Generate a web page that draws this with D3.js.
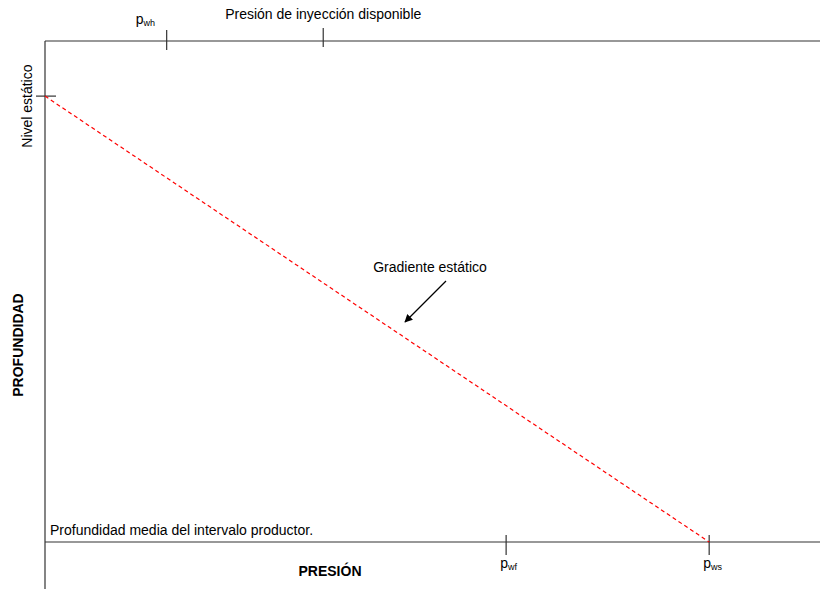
<!DOCTYPE html>
<html>
<head>
<meta charset="utf-8">
<script src="https://cdn.jsdelivr.net/npm/d3@7"></script>
<style>
  body { margin: 0; background: #fff; }
  text { font-family: "Liberation Sans", Arial, sans-serif; fill: #000; }
</style>
</head>
<body>
<div id="chart"></div>
<script>
// pressure / depth in arbitrary units (0..100)
var topTicks = [
    { name: 'p', sub: 'wh', value: 15.7 },
    { name: 'Presión de inyección disponible', sub: null, value: 35.9 }
];
var bottomTicks = [
    { name: 'p', sub: 'wf', value: 59.5 },
    { name: 'p', sub: 'ws', value: 85.7 }
];
var staticLevel = 11;        // depth of "Nivel estático"
var midDepth = 100;          // "Profundidad media del intervalo productor."
var gradient = [
    { p: 0, d: staticLevel },
    { p: 85.7, d: midDepth }
];

var width = 820, height = 589;
var fs = 14;
var svg = d3.select('#chart').append('svg')
    .attr('width', width)
    .attr('height', height);

var x = d3.scaleLinear().domain([0, 100]).range([45, 820]);
var y = d3.scaleLinear().domain([0, 100]).range([41, 542]);
var stroke = '#333';

// frame lines
svg.append('line')
    .attr('x1', x(0)).attr('x2', x(100))
    .attr('y1', y(0)).attr('y2', y(0))
    .attr('stroke', stroke).attr('stroke-width', 1.2);
svg.append('line')
    .attr('x1', x(0)).attr('x2', x(100))
    .attr('y1', y(midDepth)).attr('y2', y(midDepth))
    .attr('stroke', stroke).attr('stroke-width', 1.2);
svg.append('line')
    .attr('x1', x(0)).attr('x2', x(0))
    .attr('y1', y(0)).attr('y2', height)
    .attr('stroke', stroke).attr('stroke-width', 1.2);

// top ticks
topTicks.forEach(function(t, i) {
    var px = x(t.value);
    svg.append('line')
        .attr('x1', px).attr('x2', px)
        .attr('y1', y(0) - (i == 0 ? 11 : 13)).attr('y2', y(0) + (i == 0 ? 9 : 6))
        .attr('stroke', stroke).attr('stroke-width', 1.2);
    if (t.sub) {
        var lbl = svg.append('text')
            .attr('x', px - 31).attr('y', 24)
            .attr('font-size', fs);
        lbl.append('tspan').text(t.name);
        lbl.append('tspan').attr('font-size', 9).attr('dy', 2).text(t.sub);
    } else {
        svg.append('text')
            .attr('x', px).attr('y', 19)
            .attr('text-anchor', 'middle')
            .attr('font-size', fs)
            .text(t.name);
    }
});

// bottom ticks
bottomTicks.forEach(function(t) {
    var px = x(t.value);
    svg.append('line')
        .attr('x1', px).attr('x2', px)
        .attr('y1', y(midDepth) - 7).attr('y2', y(midDepth) + 13)
        .attr('stroke', stroke).attr('stroke-width', 1.2);
    var lbl = svg.append('text')
        .attr('x', px - 6).attr('y', 568)
        .attr('font-size', fs);
    lbl.append('tspan').text(t.name);
    lbl.append('tspan').attr('font-size', 9).attr('dy', 2).text(t.sub);
});

// static level tick
svg.append('line')
    .attr('x1', x(0) - 9).attr('x2', x(0) + 11)
    .attr('y1', y(staticLevel)).attr('y2', y(staticLevel))
    .attr('stroke', stroke).attr('stroke-width', 1.2);
svg.append('text')
    .attr('transform', 'translate(32,' + (y(staticLevel) + 10) + ') rotate(-90)')
    .attr('text-anchor', 'middle')
    .attr('font-size', fs)
    .text('Nivel estático');

// gradient line
svg.append('path')
    .datum(gradient)
    .attr('d', d3.line().x(function(d) { return x(d.p); }).y(function(d) { return y(d.d); }))
    .attr('fill', 'none')
    .attr('stroke', '#ff0000')
    .attr('stroke-width', 1.2)
    .attr('stroke-dasharray', '4,3');

// annotation
svg.append('defs').append('marker')
    .attr('id', 'arrow')
    .attr('viewBox', '0 0 10 10')
    .attr('refX', 9).attr('refY', 5)
    .attr('markerWidth', 9).attr('markerHeight', 8)
    .attr('markerUnits', 'userSpaceOnUse')
    .attr('orient', 'auto')
    .append('path')
    .attr('d', 'M0,0 L10,5 L0,10 z')
    .attr('fill', '#000');
svg.append('line')
    .attr('x1', 446).attr('x2', 405)
    .attr('y1', 281).attr('y2', 322)
    .attr('stroke', '#000').attr('stroke-width', 1.2)
    .attr('marker-end', 'url(#arrow)');
svg.append('text')
    .attr('x', 430).attr('y', 272)
    .attr('text-anchor', 'middle')
    .attr('font-size', fs)
    .text('Gradiente estático');

svg.append('text')
    .attr('x', 50).attr('y', y(midDepth) - 7)
    .attr('font-size', fs)
    .text('Profundidad media del intervalo productor.');

// axis titles
svg.append('text')
    .attr('x', 330).attr('y', 576)
    .attr('text-anchor', 'middle')
    .attr('font-size', fs)
    .attr('font-weight', 'bold')
    .text('PRESIÓN');
svg.append('text')
    .attr('transform', 'translate(23,345) rotate(-90)')
    .attr('text-anchor', 'middle')
    .attr('font-size', fs)
    .attr('font-weight', 'bold')
    .text('PROFUNDIDAD');
</script>
</body>
</html>
